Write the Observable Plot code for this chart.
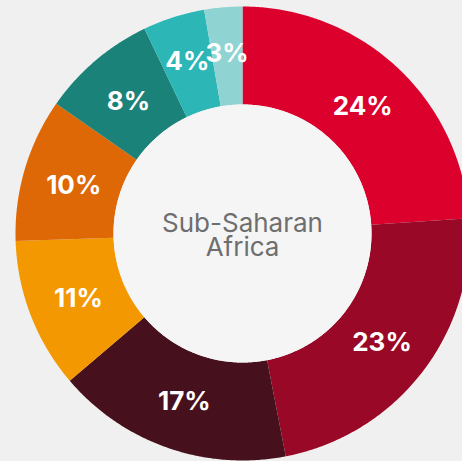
<!DOCTYPE html>
<html>
<head>
<meta charset="utf-8">
<script src="https://cdn.jsdelivr.net/npm/d3@7"></script>
<script src="https://cdn.jsdelivr.net/npm/@observablehq/plot@0.6"></script>
<style>
  html, body { margin: 0; padding: 0; background: #f0f0f0; overflow: hidden; }
  svg { display: block; }
</style>
</head>
<body>
<div id="chart"></div>
<script>
const labels = ["24%", "23%", "17%", "11%", "10%", "8%", "4%", "3%"];
const shares = [23.9, 23.0, 16.8, 10.7, 10.2, 8.2, 4.4, 2.7];
const colors = ["#dc002d", "#990826", "#46111c", "#f39800", "#de6706", "#1b8279", "#2db6b6", "#8fd4d2"];
const centerLabel = "Sub-Saharan\nAfrica";

const W = 462, H = 461;
const cx = 242, cy = 233, R = 227;
const innerFrac = 129 / 227;

const total = d3.sum(shares);
let acc = 0;
const slices = shares.map((v, i) => {
  const a0 = acc / total, a1 = (acc + v) / total;
  acc += v;
  return { key: labels[i], v, a0, a1, mid: (a0 + a1) / 2 };
});

// polygon vertices of each ring segment, in unit coordinates
const ringPts = [];
for (const s of slices) {
  const n = Math.max(2, Math.ceil((s.a1 - s.a0) * 720));
  for (let j = 0; j <= n; j++) {
    const t = 2 * Math.PI * (s.a0 + (s.a1 - s.a0) * j / n);
    ringPts.push({ k: s.key, x: Math.sin(t), y: Math.cos(t) });
  }
  for (let j = n; j >= 0; j--) {
    const t = 2 * Math.PI * (s.a0 + (s.a1 - s.a0) * j / n);
    ringPts.push({ k: s.key, x: innerFrac * Math.sin(t), y: innerFrac * Math.cos(t) });
  }
}
const diskPts = d3.range(0, 361).map(d => {
  const t = d * Math.PI / 180;
  return { x: innerFrac * Math.sin(t), y: innerFrac * Math.cos(t) };
});
// thin slices get their label pushed a little further out
const labelPts = slices.map(s => {
  const t = 2 * Math.PI * s.mid;
  const rf = (s.v / total < 0.05 ? 182 : 176) / 227;
  return { text: s.key, x: rf * Math.sin(t), y: rf * Math.cos(t) };
});

const chart = Plot.plot({
  width: W,
  height: H,
  margin: 0,
  style: { background: "#f0f0f0", overflow: "hidden" },
  x: { domain: [-1, 1], range: [cx - R, cx + R], axis: null },
  y: { domain: [-1, 1], range: [cy + R, cy - R], axis: null },
  color: { domain: labels, range: colors },
  marks: [
    Plot.line(ringPts, { x: "x", y: "y", z: "k", fill: "k", stroke: "none", curve: "linear" }),
    Plot.line(diskPts, { x: "x", y: "y", fill: "#f5f5f5", stroke: "none", curve: "linear" }),
    Plot.text(labelPts, {
      x: "x", y: "y", text: "text", fill: "white",
      fontSize: 26, fontWeight: "bold", fontFamily: "Inter", dy: 2
    }),
    Plot.text([centerLabel], {
      x: () => 0, y: () => 0, text: d => d, fill: "#6e6e6e",
      fontSize: 26, fontFamily: "Inter", lineHeight: 0.9, dy: 3,
      letterSpacing: "2px"
    })
  ]
});
document.getElementById("chart").appendChild(chart);
</script>
</body>
</html>
